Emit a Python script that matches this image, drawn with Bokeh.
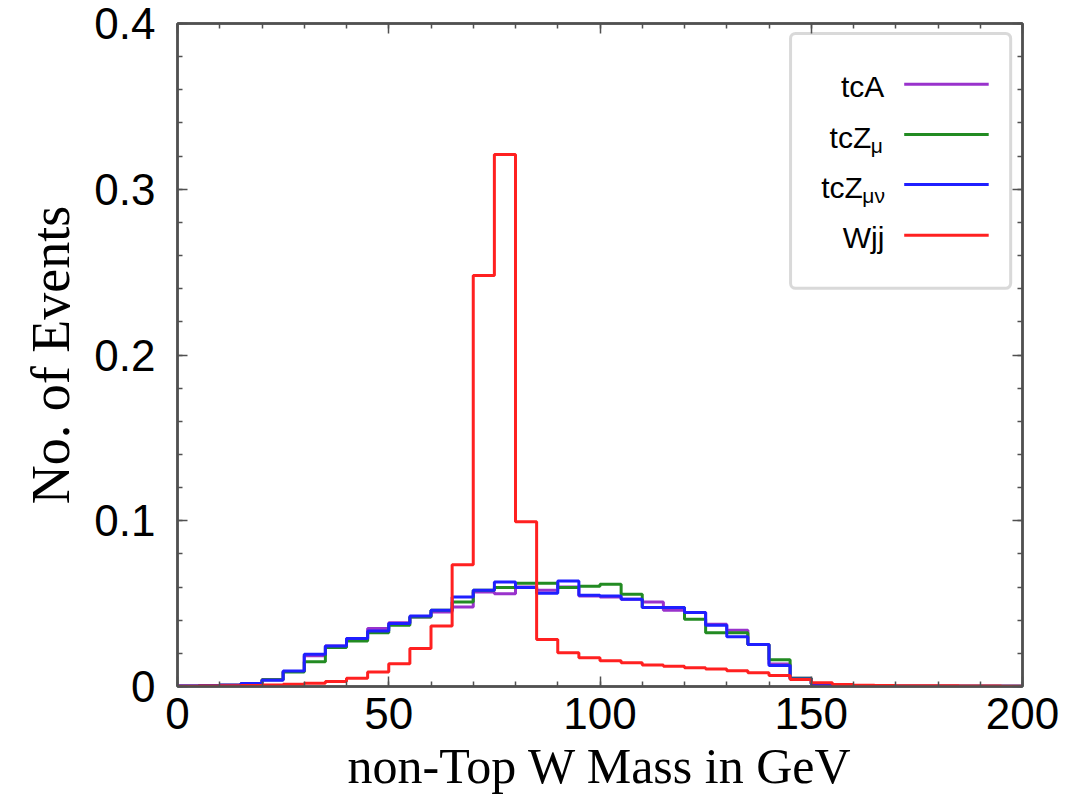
import numpy as np
from bokeh.plotting import figure
from bokeh.models import (Range1d, FixedTicker, LinearAxis, CustomJSTickFormatter,
                          BoxAnnotation, Label)
from bokeh.embed import file_html
from bokeh.resources import INLINE

# ---------------- data (5 GeV bins, 0..200 GeV) ----------------
bin_edges = list(range(0, 205, 5))

tcA = [0.0003, 0.0005, 0.0009, 0.0018, 0.0042, 0.0090, 0.0185, 0.0245, 0.0290, 0.0350,
       0.0385, 0.0420, 0.0450, 0.0480, 0.0570, 0.0560, 0.0600, 0.0580, 0.0600, 0.0546,
       0.0540, 0.0527, 0.0510, 0.0460, 0.0446, 0.0375, 0.0340, 0.0254, 0.0135, 0.0050,
       0.0016, 0.0004, 0.0002, 0.0002, 0.0001, 0.0001, 0.0001, 0.0001, 0.0001, 0.0001]

tcZmu = [0.0002, 0.0004, 0.0008, 0.0017, 0.0040, 0.0088, 0.0150, 0.0235, 0.0275, 0.0325,
         0.0370, 0.0420, 0.0460, 0.0510, 0.0580, 0.0597, 0.0623, 0.0623, 0.0597, 0.0605,
         0.0617, 0.0557, 0.0476, 0.0476, 0.0405, 0.0325, 0.0325, 0.0254, 0.0161, 0.0050,
         0.0016, 0.0004, 0.0002, 0.0002, 0.0001, 0.0001, 0.0001, 0.0001, 0.0001, 0.0001]

tcZmunu = [0.0003, 0.0004, 0.0008, 0.0018, 0.0038, 0.0093, 0.0194, 0.0244, 0.0290, 0.0335,
           0.0380, 0.0425, 0.0460, 0.0540, 0.0580, 0.0630, 0.0597, 0.0563, 0.0637, 0.0550,
           0.0546, 0.0527, 0.0476, 0.0476, 0.0446, 0.0370, 0.0300, 0.0254, 0.0127, 0.0045,
           0.0015, 0.0003, 0.0001, 0.0001, 0.0001, 0.0001, 0.0001, 0.0001, 0.0001, 0.0001]

Wjj = [0.0002, 0.0003, 0.0004, 0.0006, 0.0009, 0.0013, 0.0020, 0.0030, 0.0050, 0.0087,
       0.0137, 0.0230, 0.0365, 0.0734, 0.2480, 0.3210, 0.0994, 0.0284, 0.0204, 0.0174,
       0.0155, 0.0143, 0.0130, 0.0122, 0.0113, 0.0105, 0.0095, 0.0083, 0.0066, 0.0042,
       0.0022, 0.0012, 0.0008, 0.0006, 0.0005, 0.0004, 0.0004, 0.0003, 0.0003, 0.0002]

series_names = ["tcA", "tcZ", "tcZ", "Wjj"]
series_subs = ["", "\u03bc", "\u03bc\u03bd", ""]
series_values = [tcA, tcZmu, tcZmunu, Wjj]
series_colors = ["#9932CC", "#228B22", "#1f1fff", "#ff2020"]

x_major = [0, 50, 100, 150, 200]
x_minor = list(range(0, 210, 10))
y_major = [0, 0.1, 0.2, 0.3, 0.4]
y_minor = [round(0.02 * i, 2) for i in range(21)]

# ---------------- figure ----------------
p = figure(width=1088, height=812, output_backend="svg", toolbar_location=None,
           x_range=Range1d(0, 200), y_range=Range1d(0, 0.4),
           min_border_left=177, min_border_right=66, min_border_top=23,
           min_border_bottom=126)
p.background_fill_color = "white"
p.border_fill_color = "white"
p.outline_line_color = "#606060"
p.outline_line_width = 2.5
p.xgrid.visible = False
p.ygrid.visible = False

axis_col = "#505050"

def style_axis(ax, show_labels):
    ax.axis_line_color = axis_col
    ax.axis_line_width = 2.5
    ax.major_tick_in = 10
    ax.major_tick_out = 0
    ax.minor_tick_in = 5
    ax.minor_tick_out = 0
    ax.major_tick_line_color = axis_col
    ax.minor_tick_line_color = axis_col
    ax.major_tick_line_width = 1.5
    ax.minor_tick_line_width = 1.5
    if not show_labels:
        ax.formatter = CustomJSTickFormatter(code="return '';")
        ax.major_label_text_font_size = "1px"
        ax.major_label_standoff = 0

xt = FixedTicker(ticks=x_major, minor_ticks=x_minor)
yt = FixedTicker(ticks=y_major, minor_ticks=y_minor)

xa = p.xaxis[0]
xa.ticker = xt
style_axis(xa, True)
xa.major_label_text_font = "Liberation Sans"
xa.major_label_text_font_size = "44px"
xa.major_label_text_color = "black"
xa.major_label_standoff = 11
xa.axis_label = "non-Top W Mass in GeV"
xa.axis_label_text_font = "Liberation Serif"
xa.axis_label_text_font_style = "normal"
xa.axis_label_text_font_size = "50px"
xa.axis_label_text_color = "black"
xa.axis_label_standoff = 6

ya = p.yaxis[0]
ya.ticker = yt
style_axis(ya, True)
ya.formatter = CustomJSTickFormatter(code="return tick == 0 ? '0' : tick.toFixed(1);")
ya.major_label_text_font = "Liberation Sans"
ya.major_label_text_font_size = "44px"
ya.major_label_text_color = "black"
ya.major_label_standoff = 22
ya.axis_label = "No. of Events"
ya.axis_label_text_font = "Liberation Serif"
ya.axis_label_text_font_style = "normal"
ya.axis_label_text_font_size = "54px"
ya.axis_label_text_color = "black"
ya.axis_label_standoff = 10

top_ax = LinearAxis(ticker=FixedTicker(ticks=x_major, minor_ticks=x_minor))
style_axis(top_ax, False)
p.add_layout(top_ax, "above")
right_ax = LinearAxis(ticker=FixedTicker(ticks=y_major, minor_ticks=y_minor))
style_axis(right_ax, False)
p.add_layout(right_ax, "right")

# ---------------- histograms ----------------
for vals, col in zip(series_values, series_colors):
    p.step(x=bin_edges, y=list(vals) + [vals[-1]], mode="after",
           line_color=col, line_width=3)

# ---------------- legend (drawn manually for subscripts) ----------------
box = BoxAnnotation(left=145.1, right=197.2, top=0.394, bottom=0.2402,
                    fill_color="white", fill_alpha=1.0,
                    line_color="#808080", line_width=3, border_radius=5,
                    level="underlay")
p.add_layout(box)

leg_y = [0.3634, 0.3330, 0.3028, 0.2723]
leg_text_right = [167.3, 164.2, 162.2, 167.3]
p.segment(x0=[172.0] * 4, y0=leg_y, x1=[192.0] * 4, y1=leg_y,
          line_color=series_colors, line_width=3)

for name, sub, ly, xr in zip(series_names, series_subs, leg_y, leg_text_right):
    base = ly - 2.5 / 1652.5
    p.add_layout(Label(x=xr, y=base, text=name, text_align="right",
                       text_baseline="alphabetic", text_font="Liberation Sans",
                       text_font_size="30px", text_color="black"))
    if sub:
        p.add_layout(Label(x=xr - 0.1, y=base - 8.0 / 1652.5, text=sub,
                           text_align="left", text_baseline="alphabetic",
                           text_font="Liberation Sans", text_font_size="21px",
                           text_color="black"))

open("out.html", "w").write(file_html(p, INLINE))
